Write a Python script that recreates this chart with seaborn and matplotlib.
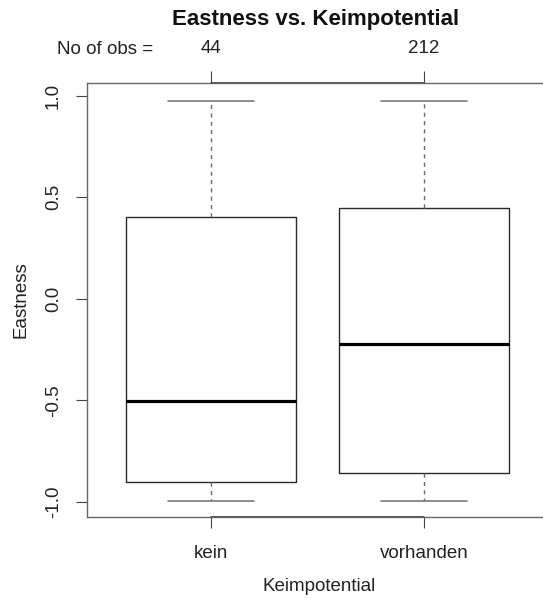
import numpy as np
import pandas as pd
import matplotlib
matplotlib.use('Agg')
import matplotlib.pyplot as plt
import matplotlib.transforms as mtrans
import seaborn as sns

sns.set_style('white')
plt.rcParams['font.family'] = ['Liberation Sans', 'DejaVu Sans']

# five-number summaries (min, q1, median, q3, max)
groups = ['kein', 'vorhanden']
n_obs = [44, 212]
kein_stats = [-0.995, -0.903, -0.504, 0.404, 0.975]
vorhanden_stats = [-0.995, -0.859, -0.223, 0.445, 0.975]
yticks = [-1.0, -0.5, 0.0, 0.5, 1.0]

df = pd.DataFrame({
    'Keimpotential': np.repeat(groups, 5),
    'Eastness': kein_stats + vorhanden_stats,
})

fig = plt.figure(figsize=(5.43, 5.98), dpi=100)
ax = fig.add_axes([87 / 543, 81 / 598, 464.8 / 543, 434 / 598])

txt = '#222222'
sns.boxplot(data=df, x='Keimpotential', y='Eastness', order=groups,
            whis=(0, 100), width=0.8, fill=False, ax=ax,
            boxprops=dict(color='#2a2a2a', linewidth=1.0),
            whiskerprops=dict(color='#6a6a6a', linewidth=1.0, linestyle=(0, (3, 3))),
            capprops=dict(color='#7a7a7a', linewidth=1.2),
            medianprops=dict(color='black', linewidth=2.3),
            capwidths=0.4)

ax.set_xlim(-0.582, 1.6)
ax.set_ylim(-1.075, 1.063)

for sp in ax.spines.values():
    sp.set_color('#666666')
    sp.set_linewidth(1.0)

ax.set_yticks(yticks)
ax.set_yticklabels([f'{v:.1f}' for v in yticks], rotation=90, va='center', fontsize=13.5, color=txt)
ax.set_xticks(range(len(groups)))
ax.set_xticklabels(groups, fontsize=13.5, color=txt)
ax.tick_params(axis='both', direction='out', length=8, width=0.8, color='#444444')
ax.tick_params(axis='x', pad=12, bottom=True)
ax.tick_params(axis='y', pad=10, left=True)

# top axis with counts
sec = ax.secondary_xaxis('top')
sec.set_xticks(range(len(groups)))
sec.set_xticklabels([str(n) for n in n_obs], fontsize=13.5, color=txt)
sec.tick_params(direction='out', length=9, width=0.8, color='#444444', pad=10)
sec.spines['top'].set_visible(False)

# darker axis lines between the outer ticks (as R's axis() draws them)
trx = mtrans.blended_transform_factory(ax.transData, ax.transAxes)
pos = list(range(len(groups)))
ax.plot([pos[0], pos[-1]], [0, 0], color='#333333', lw=1.2, transform=trx, clip_on=False)
ax.plot([pos[0], pos[-1]], [1, 1], color='#333333', lw=1.2, transform=trx, clip_on=False)

ax.set_xlabel('Keimpotential', fontsize=13.5, color=txt, labelpad=12)
ax.set_ylabel('Eastness', fontsize=13.5, color=txt, labelpad=11)

fig.text(105 / 543, 1 - 50 / 598, 'No of obs =', fontsize=13.5, color=txt,
         ha='center', va='center')
fig.text(316 / 543, 1 - 19 / 598, 'Eastness vs. Keimpotential', fontsize=16,
         fontweight='bold', color='#111111', ha='center', va='center')

fig.savefig('out.png', dpi=100)
